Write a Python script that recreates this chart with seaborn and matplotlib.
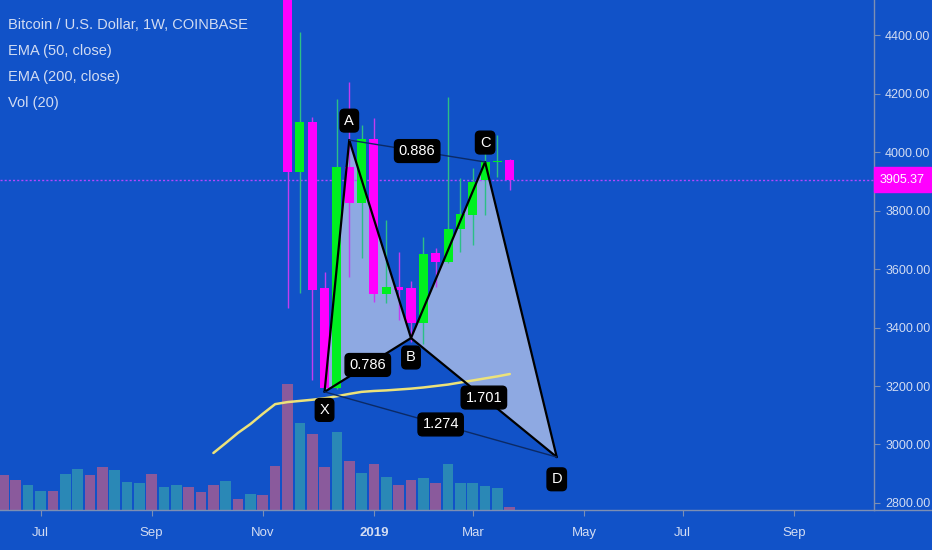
import numpy as np
import pandas as pd
import matplotlib
matplotlib.use("Agg")
import matplotlib.pyplot as plt
from matplotlib.lines import Line2D
import seaborn as sns

# ── Data (week index 0 = week of 2018-11-19) ─────────────────────────────────
candle_week  = list(range(0, 19))
candle_open  = [5560, 3932, 4103, 3535, 3193, 3949, 3826, 4044, 3514, 3540,
                3535, 3415, 3655, 3624, 3737, 3785, 3904, 3966, 3973]
candle_high  = [5600, 4410, 4120, 3590, 4181, 4239, 4092, 4116, 3767, 3658,
                3560, 3710, 3672, 4188, 3911, 3945, 4041, 4058, 3975]
candle_low   = [3467, 3518, 3220, 3180, 3190, 3573, 3637, 3487, 3484, 3426,
                3352, 3345, 3538, 3621, 3658, 3682, 3785, 3915, 3870]
candle_close = [3932, 4103, 3528, 3193, 3949, 3826, 4044, 3514, 3538, 3530,
                3415, 3651, 3624, 3737, 3788, 3897, 3966, 3970, 3905.37]

vol_week  = list(range(-23, 19))
vol_value = [35, 30, 25, 19, 19, 36, 41, 35, 43, 40, 28, 27, 36, 23, 25, 23,
             18, 25, 29, 11, 16, 15, 44, 126, 87, 76, 43, 78, 49, 37, 46, 33,
             25, 30, 32, 27, 46, 27, 27, 24, 22, 3]
vol_dir   = ["d", "d", "u", "u", "d", "u", "u", "d", "d", "u", "u", "u", "d", "u",
             "u", "d", "d", "d", "u", "d", "u", "d", "d", "d", "u", "d", "d", "u",
             "d", "u", "d", "u", "d", "d", "u", "d", "u", "u", "u", "u", "u", "d"]

ema_week  = list(range(-6, 19))
ema_value = [2971, 3005, 3040, 3070, 3105, 3138, 3145, 3149, 3153, 3158, 3165,
             3173, 3180, 3183, 3185, 3188, 3191, 3195, 3200, 3205, 3212, 3219,
             3226, 3233, 3241]

pat_names = ["X", "A", "B", "C", "D"]
pat_week  = [3, 5, 10, 16, 21.8]
pat_price = [3180, 4041, 3364, 3966, 2957]
ratio_pairs  = [("X", "B"), ("A", "C"), ("B", "D"), ("X", "D")]
ratio_labels = ["0.786", "0.886", "1.701", "1.274"]

last_price = 3905.37
y_ticks = [2800, 3000, 3200, 3400, 3600, 3800, 4000, 4200, 4400]
x_tick_week  = [-20, -11, -2, 7, 15, 24, 32, 41]
x_tick_label = ["Jul", "Sep", "Nov", "2019", "Mar", "May", "Jul", "Sep"]

legend_lines = ["Bitcoin / U.S. Dollar, 1W, COINBASE", "EMA (50, close)",
                "EMA (200, close)", "Vol (20)"]

# ── Style ────────────────────────────────────────────────────────────────────
BG = "#1152c8"
TXT = "#d2dcf2"
UP, DOWN = "#00f020", "#ff00ff"
UP_WICK, DOWN_WICK = "#2cbf86", "#c43cf0"
VOL_UP, VOL_DOWN = "#2a88b6", "#8a5a9c"
FILL = "#8ea9e2"
AXIS = "#7d8fb3"

sns.set_theme(style="ticks")
plt.rcParams["font.family"] = ["Liberation Sans", "DejaVu Sans"]

fig = plt.figure(figsize=(9.32, 5.5), dpi=100)
fig.patch.set_facecolor(BG)
rect = [0, 40 / 550, 874 / 932, 510 / 550]

# volume pane (behind)
axv = fig.add_axes(rect, zorder=0)
axv.set_facecolor(BG)
vol_colors = [VOL_UP if d == "u" else VOL_DOWN for d in vol_dir]
axv.bar(vol_week, vol_value, width=0.86, color=vol_colors, linewidth=0)
axv.set_ylim(0, max(vol_value) * 4.05)
axv.set_xlim(-23.28, 47.49)
axv.axis("off")

# price pane
ax = fig.add_axes(rect, zorder=1)
ax.set_facecolor("none")
ax.set_xlim(-23.28, 47.49)
ax.set_ylim(2776, 4520)

# harmonic pattern fills
pts = dict(zip(pat_names, zip(pat_week, pat_price)))
for tri in [("X", "A", "B"), ("B", "C", "D")]:
    ax.fill([pts[p][0] for p in tri], [pts[p][1] for p in tri],
            color=FILL, linewidth=0, zorder=1)

# EMA
ema = pd.DataFrame({"week": ema_week, "ema": ema_value})
sns.lineplot(data=ema, x="week", y="ema", ax=ax, color="#ece27a", lw=1.8, zorder=2)

# candles
for w, o, h, l, c in zip(candle_week, candle_open, candle_high, candle_low, candle_close):
    up = c >= o
    ax.vlines(w, l, h, color=UP_WICK if up else DOWN_WICK, lw=1, zorder=3)
    body = max(abs(c - o), 5)
    ax.bar(w, body, bottom=min(o, c), width=0.73,
           color=UP if up else DOWN, linewidth=0, zorder=4)

# pattern outline
for a, b in [("X", "A"), ("A", "B"), ("B", "C"), ("C", "D"), ("X", "B"), ("B", "D")]:
    ax.plot([pts[a][0], pts[b][0]], [pts[a][1], pts[b][1]], color="black", lw=1.6, zorder=5)
for a, b in [("A", "C"), ("X", "D")]:
    ax.plot([pts[a][0], pts[b][0]], [pts[a][1], pts[b][1]], color="#0b2a66", lw=1, zorder=5)

box = dict(boxstyle="round,pad=0.3", fc="black", ec="black")
for (a, b), lab in zip(ratio_pairs, ratio_labels):
    ax.text((pts[a][0] + pts[b][0]) / 2, (pts[a][1] + pts[b][1]) / 2, lab,
            color="white", fontsize=10.5, ha="center", va="center", bbox=box, zorder=6)

offsets = {"X": -13, "A": 14, "B": -14, "C": 14, "D": -16}
for name in pat_names:
    ax.annotate(name, pts[name], xytext=(0, offsets[name]), textcoords="offset points",
                color="white", fontsize=10.5, ha="center", va="center", bbox=box, zorder=6)

# last price line + tag
ax.axhline(last_price, color="#b347ff", ls=(0, (1.5, 1.5)), lw=1, zorder=2)
ax.text(1.0 + 6 / 874, last_price, f"{last_price:.2f}", transform=ax.get_yaxis_transform(),
        color="white", fontsize=9, ha="left", va="center", clip_on=False, zorder=7,
        bbox=dict(boxstyle="square,pad=0.5", fc="#ff00ff", ec="#ff00ff"))

# axes
ax.yaxis.tick_right()
ax.set_yticks(y_ticks)
ax.set_yticklabels([f"{v:.2f}" for v in y_ticks])
ax.set_xticks(x_tick_week)
ax.set_xticklabels(x_tick_label)
for t in ax.get_xticklabels():
    if t.get_text() == "2019":
        t.set_fontweight("bold")
ax.tick_params(axis="both", colors=AXIS, labelcolor=TXT, length=4, width=0.8)
ax.tick_params(axis="x", pad=8, labelsize=9.5)
ax.tick_params(axis="y", pad=4, labelsize=9)
ax.set_xlabel("")
ax.set_ylabel("")
for side in ["top", "left"]:
    ax.spines[side].set_visible(False)
for side in ["right", "bottom"]:
    ax.spines[side].set_color(AXIS)
    ax.spines[side].set_linewidth(1)
fig.add_artist(Line2D([874 / 932, 1], [40 / 550, 40 / 550], color=AXIS, lw=1))

# legend text top-left
for i, line in enumerate(legend_lines):
    fig.text(8 / 932, 1 - (25 + 26 * i) / 550, line, color=TXT, fontsize=10.5,
             ha="left", va="center")

fig.savefig("out.png", dpi=100, facecolor=BG)
plt.close(fig)
